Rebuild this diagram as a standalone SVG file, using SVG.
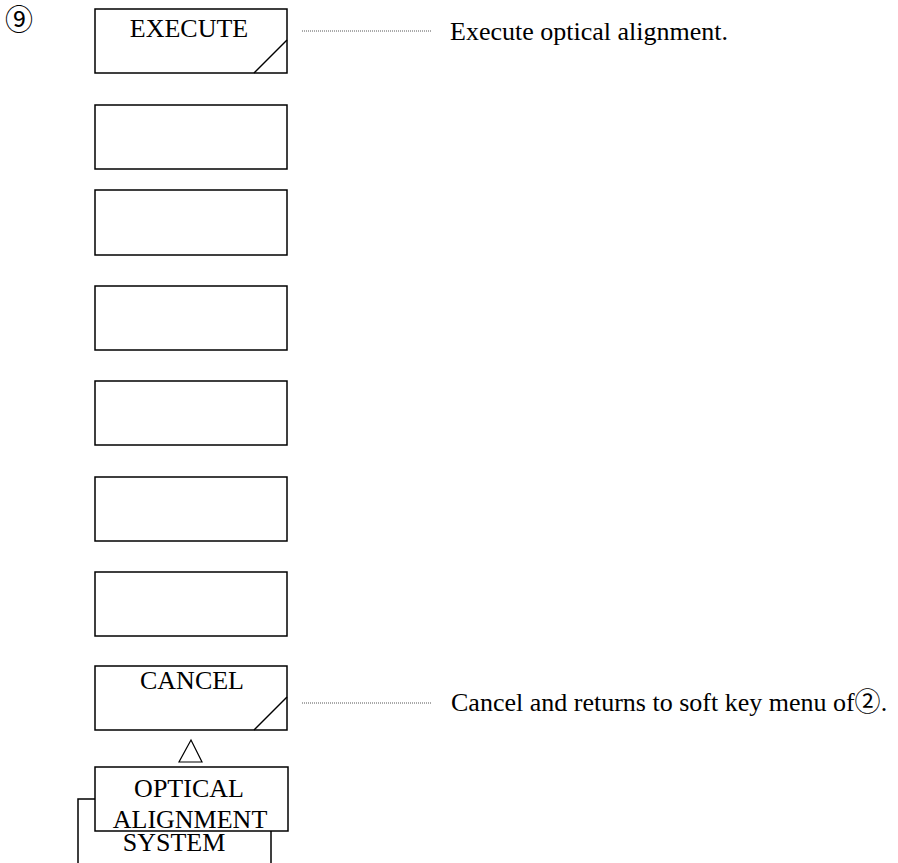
<svg xmlns="http://www.w3.org/2000/svg" width="898" height="863" viewBox="0 0 898 863">
<style>
.key{fill:#fff;stroke:#000;stroke-width:1.5}
.diag{stroke:#000;stroke-width:1.5;fill:none}
.lead{stroke:#555;stroke-width:1;stroke-dasharray:1 1;fill:none}
.t{font-family:"Liberation Serif","Noto Sans CJK JP",serif;fill:#000}
.kt{font-size:26px;text-anchor:middle}
.dt{font-size:26px}
</style>
<rect width="898" height="863" fill="#fff"/>
<text class="t" x="5" y="30" font-size="28" font-family="'Noto Sans CJK JP',serif">⑨</text>
<g id="key-execute">
<rect class="key" x="95" y="9" width="192" height="64"/>
<line class="diag" x1="254" y1="73" x2="287" y2="40"/>
<text class="t kt" x="189" y="37">EXECUTE</text>
</g>
<g id="key-2"><rect class="key" x="95" y="105" width="192" height="64"/></g>
<g id="key-3"><rect class="key" x="95" y="190" width="192" height="65"/></g>
<g id="key-4"><rect class="key" x="95" y="286" width="192" height="64"/></g>
<g id="key-5"><rect class="key" x="95" y="381" width="192" height="64"/></g>
<g id="key-6"><rect class="key" x="95" y="477" width="192" height="64"/></g>
<g id="key-7"><rect class="key" x="95" y="572" width="192" height="64"/></g>
<g id="key-cancel">
<rect class="key" x="95" y="666" width="192" height="64"/>
<line class="diag" x1="254" y1="730" x2="287" y2="697"/>
<text class="t kt" x="192" y="689">CANCEL</text>
</g>
<g id="key-system">
<rect class="key" x="78" y="799" width="193" height="80"/>
<text class="t kt" x="174" y="851">SYSTEM</text>
</g>
<g id="key-optical">
<rect class="key" x="95" y="767" width="193" height="64"/>
<text class="t kt" x="189" y="797">OPTICAL</text>
<text class="t kt" x="190" y="828">ALIGNMENT</text>
</g>
<g id="connectors">
<line class="lead" x1="302" y1="31" x2="431" y2="31"/>
<line class="lead" x1="302" y1="703" x2="431" y2="703"/>
<polygon points="191,740 179,762 202,762" fill="none" stroke="#000" stroke-width="1.2"/>
</g>
<g id="descriptions">
<text class="t dt" x="450" y="40">Execute optical alignment.</text>
<text class="t dt" x="451" y="711">Cancel and returns to soft key menu of<tspan font-family="'Noto Sans CJK JP',serif">②</tspan>.</text>
</g>
</svg>
